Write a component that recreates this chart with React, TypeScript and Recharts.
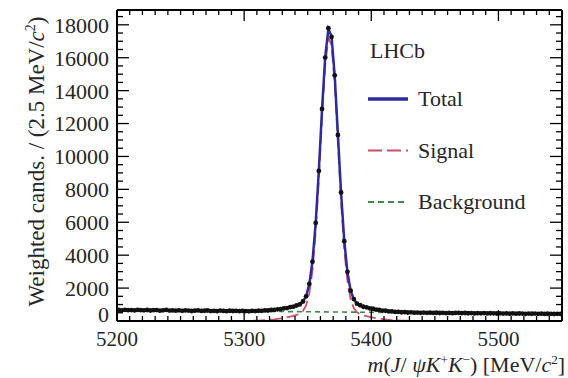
import { ComposedChart, Line, Scatter, XAxis, YAxis, Legend, Label } from 'recharts';

// binning: 2.5 MeV bins from 5200 to 5550
const FIRST_BIN = 5201.25;
const BIN_WIDTH = 2.5;

const xMajorTicks = [5200, 5300, 5400, 5500];
const yMajorTicks = [0, 2000, 4000, 6000, 8000, 10000, 12000, 14000, 16000, 18000];

// weighted candidates per bin (140 bins)
const counts = [
  672, 648, 681, 655, 663, 640, 676, 658, 649, 667,
  638, 655, 661, 630, 648, 672, 635, 644, 626, 650,
  619, 641, 633, 608, 628, 645, 615, 622, 637, 605,
  618, 600, 631, 612, 596, 624, 607, 615, 598, 620,
  604, 590, 612, 601, 622, 616, 641, 638, 668, 674,
  710, 722, 770, 788, 845, 870, 941, 1008, 1185, 1498,
  2260, 3605, 5960, 9120, 12890, 16010, 17790, 17260, 14930, 11310,
  7810, 4850, 2990, 1840, 1330, 1052, 958, 866, 830, 770,
  744, 690, 675, 631, 622, 586, 581, 553, 556, 531,
  537, 518, 526, 505, 514, 497, 509, 494, 503, 489,
  500, 486, 497, 481, 492, 478, 489, 495, 474, 485,
  470, 484, 463, 476, 468, 481, 459, 472, 465, 455,
  468, 452, 461, 447, 458, 444, 455, 449, 438, 452,
  441, 450, 436, 445, 430, 442, 433, 425, 439, 428,
];

// fit curves sampled at bin centres 40..93 (5301.25 .. 5433.75)
const FIT_FIRST_BIN = 40;
const signalFit = [
  8, 11, 15, 21, 28, 37, 49, 63, 81, 101,
  126, 154, 187, 223, 264, 309, 366, 448, 607, 949,
  1678, 3072, 5380, 8606, 12288, 15501, 17199, 16757, 14342, 10811,
  7223, 4338, 2416, 1324, 779, 529, 410, 341, 290, 247,
  208, 173, 143, 116, 93, 73, 57, 44, 33, 25,
  19, 14, 10, 7,
];
const totalFit = [
  601, 603, 605, 609, 615, 622, 633, 645, 661, 680,
  703, 729, 761, 795, 834, 878, 933, 1014, 1171, 1511,
  2239, 3631, 5937, 9162, 12842, 16053, 17750, 17306, 14889, 11357,
  7767, 4881, 2957, 1863, 1317, 1065, 944, 874, 821, 776,
  736, 699, 667, 639, 614, 593, 575, 560, 548, 538,
  530, 524, 518, 513,
];
const edgeMass = [5200, 5550];
const totalEdge = [660, 430];
const signalEdge = [0, 0];
const backgroundEdge = [660, 430];

const legendItems = [
  { name: 'Total', color: '#2b2b9c', dash: undefined, width: 3.5 },
  { name: 'Signal', color: '#c8506a', dash: '14 5', width: 2 },
  { name: 'Background', color: '#3c8a4a', dash: '6 4', width: 1.8 },
];

const points = counts.map((v, i) => ({ m: FIRST_BIN + BIN_WIDTH * i, v }));
const fitRows = [
  { m: edgeMass[0], total: totalEdge[0], signal: signalEdge[0] },
  ...signalFit.map((s, i) => ({
    m: FIRST_BIN + BIN_WIDTH * (FIT_FIRST_BIN + i),
    total: totalFit[i],
    signal: s,
  })),
  { m: edgeMass[1], total: totalEdge[1], signal: signalEdge[1] },
];
const bgRows = edgeMass.map((m, i) => ({ m, bg: backgroundEdge[i] }));

const xTicks: number[] = [];
for (let t = 5200; t <= 5550; t += 10) xTicks.push(t);
const yTicks: number[] = [];
for (let t = 0; t <= 18500; t += 500) yTicks.push(t);

const FONT = '"Liberation Serif", "DejaVu Serif", serif';
const TEXT = '#262626';

function BottomTick(props: any) {
  const { x, y, payload } = props;
  const major = xMajorTicks.includes(payload.value);
  return (
    <g>
      <line x1={x} y1={y} x2={x} y2={y - (major ? 11 : 5)} stroke="#000" strokeWidth={1.3} />
      {major && (
        <text x={x} y={y + 25} textAnchor="middle" fontSize={21} fontFamily={FONT} fill={TEXT}>
          {payload.value}
        </text>
      )}
    </g>
  );
}

function TopTick(props: any) {
  const { x, y, payload } = props;
  const major = xMajorTicks.includes(payload.value);
  return <line x1={x} y1={y} x2={x} y2={y + (major ? 11 : 5)} stroke="#000" strokeWidth={1.3} />;
}

function LeftTick(props: any) {
  const { x, y, payload } = props;
  const major = yMajorTicks.includes(payload.value);
  return (
    <g>
      <line x1={x} y1={y} x2={x + (major ? 12 : 6)} y2={y} stroke="#000" strokeWidth={1.3} />
      {major && (
        <text x={x - 8} y={y - (payload.value === 0 ? 7 : 0)} dy="0.36em" textAnchor="end" fontSize={22} fontFamily={FONT} fill={TEXT}>
          {payload.value}
        </text>
      )}
    </g>
  );
}

function RightTick(props: any) {
  const { x, y, payload } = props;
  const major = yMajorTicks.includes(payload.value);
  return <line x1={x} y1={y} x2={x - (major ? 12 : 6)} y2={y} stroke="#000" strokeWidth={1.3} />;
}

function renderLegend() {
  return (
    <svg width={210} height={190} style={{ overflow: 'visible' }}>
      <text x={15} y={26} fontSize={22} fontFamily={FONT} fill={TEXT}>LHCb</text>
      {legendItems.map((it, i) => {
        const cy = 67 + i * 51.5;
        return (
          <g key={it.name}>
            <line x1={13} y1={cy} x2={53} y2={cy} stroke={it.color} strokeWidth={it.width} strokeDasharray={it.dash} />
            <text x={63} y={cy} dy="0.33em" fontSize={22} fontFamily={FONT} fill={TEXT}>{it.name}</text>
          </g>
        );
      })}
    </svg>
  );
}

function XTitle(props: any) {
  const vb = props.viewBox;
  const sup = { fontSize: 13 };
  return (
    <text x={vb.x + vb.width + 3} y={vb.y + 51} textAnchor="end" fontSize={22} fontFamily={FONT} fill={TEXT}>
      <tspan fontStyle="italic">m</tspan>
      <tspan>(</tspan>
      <tspan fontStyle="italic">J</tspan>
      <tspan>/ </tspan>
      <tspan fontStyle="italic">ψK</tspan>
      <tspan dy={-8} {...sup}>+</tspan>
      <tspan dy={8} fontStyle="italic">K</tspan>
      <tspan dy={-8} {...sup}>−</tspan>
      <tspan dy={8}>) [MeV/</tspan>
      <tspan fontStyle="italic">c</tspan>
      <tspan dy={-8} {...sup}>2</tspan>
      <tspan dy={8}>]</tspan>
    </text>
  );
}

function YTitle(props: any) {
  const vb = props.viewBox;
  const cx = 36;
  const cy = vb.y + vb.height / 2 - 4;
  return (
    <text
      x={cx}
      y={cy}
      transform={`rotate(-90 ${cx} ${cy})`}
      textAnchor="middle"
      dy="0.35em"
      fontSize={23}
      fontFamily={FONT}
      fill={TEXT}
    >
      Weighted cands. / (2.5 MeV/<tspan fontStyle="italic">c</tspan>
      <tspan dy={-9} fontSize={14}>2</tspan>
      <tspan dy={9}>)</tspan>
    </text>
  );
}

const frame = { stroke: '#000', strokeWidth: 2 };

export default function App() {
  return (
    <div style={{ position: 'absolute', left: 0, top: 0, width: 568, height: 378, background: '#fff' }}>
      <ComposedChart width={568} height={378} margin={{ top: 9, right: 5, bottom: 7, left: 7 }}>
        <XAxis
          xAxisId={0}
          dataKey="m"
          type="number"
          domain={[5200, 5550]}
          allowDataOverflow
          ticks={xTicks}
          interval={0}
          height={50}
          tickSize={0}
          tickMargin={0}
          axisLine={frame}
          tick={BottomTick}
        >
          <Label content={XTitle} />
        </XAxis>
        <XAxis
          xAxisId="top"
          orientation="top"
          dataKey="m"
          type="number"
          domain={[5200, 5550]}
          allowDataOverflow
          ticks={xTicks}
          interval={0}
          height={1}
          tickSize={0}
          tickMargin={0}
          axisLine={frame}
          tick={TopTick}
        />
        <YAxis
          yAxisId={0}
          type="number"
          domain={[0, 18900]}
          allowDataOverflow
          ticks={yTicks}
          interval={0}
          width={110}
          tickSize={0}
          tickMargin={0}
          axisLine={frame}
          tick={LeftTick}
        >
          <Label content={YTitle} />
        </YAxis>
        <YAxis
          yAxisId="right"
          orientation="right"
          type="number"
          domain={[0, 18900]}
          allowDataOverflow
          ticks={yTicks}
          interval={0}
          width={1}
          tickSize={0}
          tickMargin={0}
          axisLine={frame}
          tick={RightTick}
        />
        <Line
          data={bgRows}
          dataKey="bg"
          type="linear"
          stroke="#3c8a4a"
          strokeWidth={1.6}
          strokeDasharray="5 4"
          dot={false}
          isAnimationActive={false}
        />
        <Line
          data={fitRows}
          dataKey="signal"
          type="linear"
          stroke="#c8506a"
          strokeWidth={1.8}
          strokeDasharray="12 5"
          dot={false}
          isAnimationActive={false}
        />
        <Line
          data={fitRows}
          dataKey="total"
          type="linear"
          stroke="#2b2b9c"
          strokeWidth={2.5}
          dot={false}
          isAnimationActive={false}
        />
        <Scatter
          data={points}
          dataKey="v"
          fill="#111"
          shape={(p: any) => <circle cx={p.cx} cy={p.cy} r={2.4} fill="#111" />}
          isAnimationActive={false}
        />
        <Legend
          layout="vertical"
          align="center"
          verticalAlign="middle"
          content={renderLegend}
          wrapperStyle={{ position: 'absolute', left: 355, top: 32, width: 210, height: 190 }}
        />
      </ComposedChart>
    </div>
  );
}
